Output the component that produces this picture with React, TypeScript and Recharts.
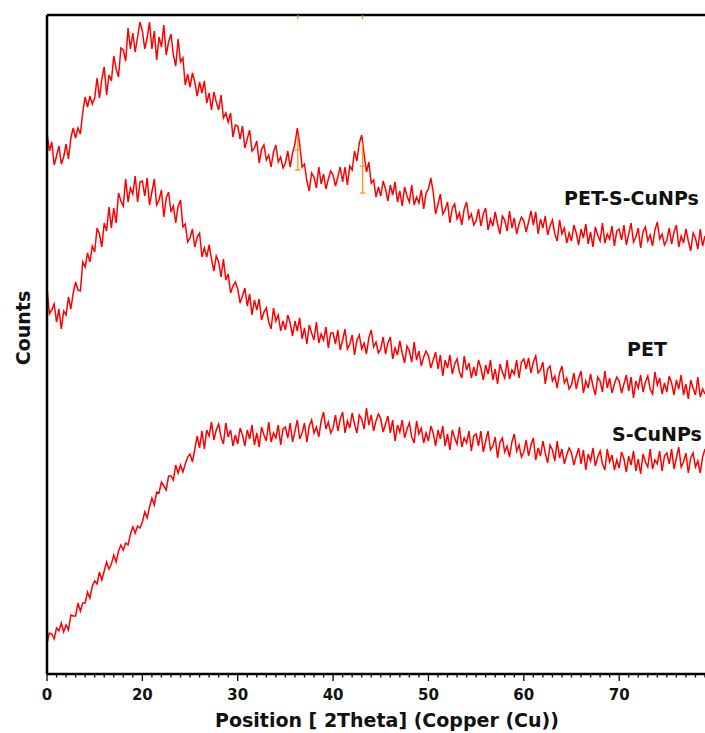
import React from 'react';
import { LineChart, Line, XAxis, YAxis, ReferenceLine } from 'recharts';

// XRD scans, 2Theta from 10 to 79 deg, every 0.25 deg (arbitrary counts, curves offset)
const startPos = 10;
const stepPos = 0.25;

const petScuCounts = [
  541, 523, 532, 509, 518, 528, 510, 517, 530, 515, 536, 546, 536, 546, 540, 562, 577, 567, 578, 570,
  576, 596, 576, 595, 607, 579, 599, 593, 618, 605, 597, 626, 624, 613, 646, 625, 641, 622, 637, 652,
  643, 625, 636, 652, 625, 643, 614, 637, 627, 649, 619, 632, 640, 619, 608, 635, 612, 616, 589, 600,
  587, 601, 592, 578, 592, 581, 593, 571, 581, 564, 582, 572, 564, 579, 556, 561, 552, 561, 537, 549,
  548, 535, 548, 526, 535, 544, 523, 526, 533, 511, 525, 529, 514, 519, 507, 522, 529, 512, 517, 506,
  511, 523, 507, 521, 530, 546, 530, 507, 510, 493, 483, 501, 497, 486, 507, 490, 500, 485, 495, 503,
  499, 488, 497, 507, 492, 507, 489, 508, 504, 523, 513, 531, 539, 520, 502, 512, 491, 494, 477, 487,
  478, 493, 485, 473, 489, 479, 492, 472, 483, 468, 487, 478, 472, 489, 469, 477, 471, 484, 465, 481,
  485, 496, 482, 460, 470, 480, 460, 464, 472, 451, 466, 470, 455, 461, 449, 465, 472, 455, 460, 449,
  453, 465, 448, 460, 466, 444, 455, 448, 462, 450, 440, 458, 454, 443, 463, 446, 456, 440, 450, 457,
  453, 442, 452, 463, 449, 462, 440, 455, 446, 458, 439, 448, 454, 440, 433, 454, 440, 446, 431, 441,
  433, 449, 441, 429, 445, 436, 450, 430, 442, 427, 447, 439, 433, 451, 431, 440, 435, 448, 428, 443,
  445, 434, 449, 429, 440, 451, 432, 437, 446, 426, 442, 447, 433, 439, 428, 444, 452, 435, 440, 429,
  434, 446, 430, 442, 449, 427, 438, 431, 445, 433, 423, 441, 436, 425, 445, 428, 438,
];

const petCounts = [
  386, 360, 364, 370, 352, 365, 345, 363, 359, 377, 365, 381, 392, 384, 383, 412, 407, 421, 412, 428,
  422, 446, 440, 427, 451, 443, 467, 446, 466, 451, 481, 473, 468, 495, 472, 486, 480, 498, 472, 492,
  493, 478, 496, 469, 482, 495, 469, 474, 484, 457, 476, 482, 462, 468, 451, 468, 474, 447, 450, 432,
  436, 445, 427, 437, 441, 417, 426, 417, 429, 415, 403, 418, 412, 397, 415, 394, 400, 381, 388, 392,
  385, 371, 378, 386, 368, 380, 359, 374, 364, 375, 354, 362, 366, 352, 345, 366, 353, 359, 343, 353,
  344, 359, 351, 338, 353, 343, 356, 335, 346, 330, 349, 341, 334, 352, 331, 340, 334, 347, 326, 341,
  341, 330, 344, 324, 334, 345, 325, 330, 339, 319, 334, 339, 325, 331, 320, 336, 344, 327, 332, 321,
  325, 337, 320, 331, 337, 315, 326, 319, 333, 321, 311, 328, 323, 312, 332, 314, 323, 308, 317, 323,
  318, 306, 314, 322, 305, 319, 298, 314, 306, 319, 300, 310, 315, 302, 296, 318, 304, 311, 296, 307,
  298, 314, 306, 294, 309, 300, 314, 294, 305, 290, 310, 302, 296, 314, 295, 304, 300, 314, 296, 312,
  315, 305, 316, 301, 312, 318, 301, 304, 312, 290, 305, 308, 293, 298, 286, 301, 308, 291, 296, 285,
  289, 301, 285, 296, 303, 281, 293, 286, 300, 288, 279, 297, 293, 282, 303, 286, 296, 281, 290, 297,
  293, 281, 290, 299, 283, 297, 276, 293, 286, 299, 282, 292, 298, 285, 280, 302, 289, 296, 280, 291,
  282, 298, 291, 279, 294, 285, 299, 279, 290, 275, 294, 286, 279, 297, 277, 285, 280,
];

const scuCounts = [
  31, 41, 40, 35, 46, 43, 51, 42, 49, 44, 59, 58, 58, 71, 63, 71, 71, 82, 76, 88,
  93, 90, 102, 94, 103, 112, 105, 110, 119, 112, 123, 129, 124, 131, 129, 140, 147, 141, 148, 146,
  152, 162, 156, 167, 176, 169, 182, 181, 192, 188, 184, 198, 198, 194, 209, 201, 209, 202, 210, 217,
  220, 212, 225, 238, 226, 243, 225, 244, 238, 252, 234, 244, 250, 237, 230, 251, 237, 244, 228, 239,
  230, 246, 239, 228, 244, 235, 249, 229, 241, 227, 247, 239, 233, 252, 232, 241, 236, 249, 229, 245,
  247, 236, 251, 232, 243, 254, 235, 241, 251, 232, 248, 254, 241, 247, 237, 253, 262, 245, 252, 241,
  246, 259, 243, 255, 262, 241, 253, 246, 261, 250, 241, 259, 255, 245, 266, 249, 259, 243, 253, 260,
  255, 242, 250, 258, 241, 254, 233, 249, 242, 254, 236, 245, 251, 237, 231, 253, 240, 246, 231, 241,
  233, 248, 241, 228, 244, 235, 248, 228, 240, 224, 244, 236, 230, 247, 227, 236, 231, 243, 223, 238,
  240, 228, 243, 222, 233, 243, 224, 228, 237, 216, 232, 236, 222, 228, 217, 232, 240, 223, 229, 217,
  222, 234, 218, 229, 236, 214, 226, 218, 233, 221, 211, 229, 224, 213, 233, 216, 225, 210, 219, 226,
  221, 209, 218, 226, 210, 224, 204, 220, 213, 226, 208, 217, 223, 210, 204, 225, 212, 219, 204, 214,
  206, 222, 215, 202, 218, 209, 223, 203, 215, 200, 220, 212, 207, 225, 205, 214, 210, 223, 203, 218,
  221, 210, 225, 205, 216, 227, 207, 212, 221, 201, 216, 221, 207, 213, 201, 217, 225,
];

const xMajorTicks = [10, 20, 30, 40, 50, 60, 70];
const xMajorLabels = ['0', '20', '30', '40', '50', '60', '70'];
const xMinorTicks = [
  10, 11, 12, 13, 14, 15, 16, 17, 18, 19, 20, 21, 22, 23, 24, 25, 26, 27, 28, 29,
  30, 31, 32, 33, 34, 35, 36, 37, 38, 39, 40, 41, 42, 43, 44, 45, 46, 47, 48, 49,
  50, 51, 52, 53, 54, 55, 56, 57, 58, 59, 60, 61, 62, 63, 64, 65, 66, 67, 68, 69,
  70, 71, 72, 73, 74, 75, 76, 77, 78, 79,
];
const yTicks = [110, 200, 276, 424, 580];

// reference markers (orange) on the top pattern
const markerPos = [36.3, 43.1];
const markerLow = [504, 481];
const markerHigh = [539, 531];
const markerMid = [524, 508];

const data = petScuCounts.map((v, i) => ({
  pos: startPos + i * stepPos,
  petScu: v,
  pet: petCounts[i],
  scu: scuCounts[i],
}));

const FONT = '"DejaVu Sans", sans-serif';

const XTick = (props: any) => {
  const { x, y, payload } = props;
  const v = payload.value;
  const idx = xMajorTicks.indexOf(v);
  const major = idx >= 0;
  return (
    <g>
      <line x1={x} x2={x} y1={y} y2={y + (major ? 7 : 3.5)} stroke="#000" strokeWidth={1.3} />
      {major && (
        <text
          x={x}
          y={y + 26}
          textAnchor="middle"
          fontFamily={FONT}
          fontWeight={700}
          fontSize={15}
          fill="#111"
        >
          {xMajorLabels[idx]}
        </text>
      )}
    </g>
  );
};

const labelStyle: React.CSSProperties = {
  position: 'absolute',
  fontFamily: FONT,
  fontWeight: 700,
  fontSize: 19,
  color: '#111',
  whiteSpace: 'nowrap',
  lineHeight: '19px',
};

export default function App() {
  return (
    <div style={{ position: 'relative', width: 705, height: 733, background: '#fff' }}>
      <style>{'body{margin:0}'}</style>
      <LineChart
        width={705}
        height={733}
        data={data}
        margin={{ top: 15, right: 0, bottom: 0, left: 0 }}
      >
        <XAxis
          dataKey="pos"
          type="number"
          domain={[10, 79]}
          ticks={xMinorTicks}
          interval={0}
          tick={<XTick />}
          tickLine={false}
          tickSize={0}
          tickMargin={0}
          height={59}
          axisLine={{ stroke: '#000', strokeWidth: 2.5 }}
          allowDataOverflow
        />
        <YAxis
          type="number"
          domain={[0, 659]}
          ticks={yTicks}
          tick={false}
          tickSize={4}
          width={47}
          tickLine={{ stroke: '#000', strokeWidth: 1.3 }}
          axisLine={{ stroke: '#000', strokeWidth: 2.5 }}
          allowDataOverflow
        />
        <ReferenceLine y={659} stroke="#000" strokeWidth={2.5} />
        {markerPos.map((p, i) => (
          <ReferenceLine
            key={`top-${i}`}
            segment={[{ x: p, y: 655 }, { x: p, y: 659 }]}
            stroke="#ff8c00"
            strokeWidth={1.2}
          />
        ))}
        <Line
          type="linear"
          dataKey="petScu"
          stroke="#ff0000"
          strokeWidth={1.5}
          dot={false}
          isAnimationActive={false}
        />
        <Line
          type="linear"
          dataKey="pet"
          stroke="#ff0000"
          strokeWidth={1.5}
          dot={false}
          isAnimationActive={false}
        />
        <Line
          type="linear"
          dataKey="scu"
          stroke="#ff0000"
          strokeWidth={1.5}
          dot={false}
          isAnimationActive={false}
        />
        {markerPos.map((p, i) => (
          <ReferenceLine
            key={`bar-${i}`}
            segment={[{ x: p, y: markerLow[i] }, { x: p, y: markerHigh[i] }]}
            stroke="#ff8c00"
            strokeWidth={1.2}
          />
        ))}
        {markerPos.map((p, i) => (
          <ReferenceLine
            key={`cap-${i}`}
            segment={[{ x: p - 0.3, y: markerLow[i] }, { x: p + 0.3, y: markerLow[i] }]}
            stroke="#ff8c00"
            strokeWidth={1.2}
          />
        ))}
        {markerPos.map((p, i) => (
          <ReferenceLine
            key={`mid-${i}`}
            segment={[{ x: p - 0.3, y: markerMid[i] }, { x: p + 0.3, y: markerMid[i] }]}
            stroke="#ff8c00"
            strokeWidth={1.2}
          />
        ))}
      </LineChart>

      <div style={{ ...labelStyle, left: 564, top: 189 }}>PET-S-CuNPs</div>
      <div style={{ ...labelStyle, left: 627, top: 340 }}>PET</div>
      <div style={{ ...labelStyle, left: 612, top: 425 }}>S-CuNPs</div>
      <div
        style={{
          ...labelStyle,
          left: 23,
          top: 328,
          transform: 'translate(-50%, -50%) rotate(-90deg)',
        }}
      >
        Counts
      </div>
      <div style={{ ...labelStyle, left: 215, top: 711 }}>Position [ 2Theta] (Copper (Cu))</div>
    </div>
  );
}
